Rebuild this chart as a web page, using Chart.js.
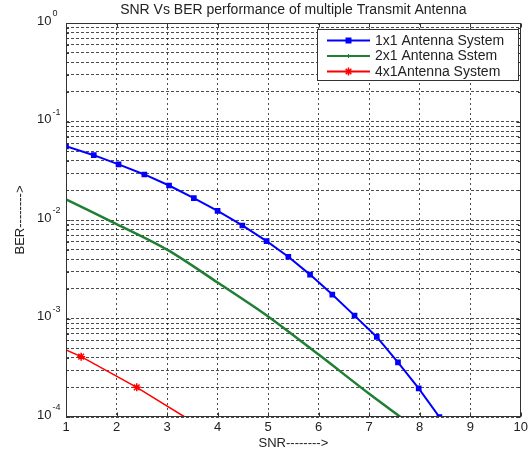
<!DOCTYPE html>
<html>
<head>
<meta charset="utf-8">
<script src="https://cdn.jsdelivr.net/npm/chart.js@4"></script>
<style>
    html, body { margin: 0; padding: 0; background: #fff; }
</style>
</head>
<body>
<canvas id="berChart" width="531" height="451"></canvas>
<script>
// Dados (SNR x BER)
const snr1x1 = [1, 1.55, 2.04, 2.55, 3.04, 3.53, 4.0, 4.49, 4.97, 5.40, 5.83, 6.27, 6.71, 7.15, 7.57, 7.98, 8.39];
const ber1x1 = [0.056, 0.0455, 0.0367, 0.029, 0.0224, 0.0167, 0.0124, 0.0088, 0.0061, 0.00424, 0.00279, 0.00175, 0.00107, 0.00065, 0.000358, 0.000195, 0.0001];

const snr2x1 = [1, 2, 3, 4, 5, 6, 7, 7.62];
const ber2x1 = [0.0162, 0.0091, 0.0050, 0.00232, 0.00105, 0.00043, 0.000172, 0.0001];

const snr4x1 = [1, 1.30, 2.40, 3.35];
const ber4x1 = [0.00048, 0.00041, 0.0002, 0.0001];

const seriesLabels = ['1x1 Antenna System', '2x1 Antenna Sstem', '4x1Antenna System'];
const xTicks = [1, 2, 3, 4, 5, 6, 7, 8, 9, 10];
const yDecades = [0, -1, -2, -3, -4];

const chartTitle = 'SNR Vs BER performance of multiple Transmit Antenna';
const xTitle = 'SNR-------->';
const yTitle = 'BER-------->';

const FONT = "'Liberation Sans', Arial, sans-serif";
const TEXT = '#222';

function toPoints(xs, ys) {
    return xs.map((x, i) => ({ x: x, y: ys[i] }));
}

// marcadores da legenda (estilo MATLAB)
function drawMarker(ctx, style, x, y, color) {
    ctx.save();
    ctx.fillStyle = color;
    ctx.strokeStyle = color;
    ctx.lineWidth = 1.5;
    if (style === 'rect') {
        ctx.fillRect(x - 3, y - 3, 6, 6);
    } else if (style === 'cross') {
        ctx.lineWidth = 1;
        ctx.beginPath();
        ctx.moveTo(x - 2, y); ctx.lineTo(x + 2, y);
        ctx.moveTo(x, y - 2); ctx.lineTo(x, y + 2);
        ctx.stroke();
    } else if (style === 'star') {
        ctx.beginPath();
        for (let k = 0; k < 4; k++) {
            const ang = k * Math.PI / 4;
            ctx.moveTo(x - 4 * Math.cos(ang), y - 4 * Math.sin(ang));
            ctx.lineTo(x + 4 * Math.cos(ang), y + 4 * Math.sin(ang));
        }
        ctx.stroke();
    }
    ctx.restore();
}

const decorPlugin = {
    id: 'decor',
    afterDraw(chart) {
        const { ctx, chartArea: a, scales } = chart;
        const xs = scales.x, ys = scales.y;
        const L = Math.round(a.left) + 0.5, R = Math.round(a.right) - 0.5;
        const T = Math.round(a.top) + 0.5, B = Math.round(a.bottom) - 0.5;
        ctx.save();

        // moldura
        ctx.setLineDash([]);
        ctx.strokeStyle = '#333';
        ctx.lineWidth = 1;
        ctx.strokeRect(L, T, R - L, B - T);

        // marcas internas dos eixos
        ctx.beginPath();
        xTicks.forEach(v => {
            const px = Math.round(xs.getPixelForValue(v)) + 0.5;
            ctx.moveTo(px, B); ctx.lineTo(px, B - 4);
            ctx.moveTo(px, T); ctx.lineTo(px, T + 4);
        });
        ys.ticks.forEach(t => {
            const py = Math.round(ys.getPixelForValue(t.value)) + 0.5;
            const len = Number.isInteger(Math.log10(t.value)) ? 4 : 2.5;
            ctx.moveTo(L, py); ctx.lineTo(L + len, py);
            ctx.moveTo(R, py); ctx.lineTo(R - len, py);
        });
        ctx.stroke();

        // rótulos do eixo y (10 elevado a n)
        ctx.fillStyle = TEXT;
        ctx.textBaseline = 'middle';
        ctx.textAlign = 'left';
        yDecades.forEach(e => {
            const py = ys.getPixelForValue(Math.pow(10, e));
            ctx.font = '13px ' + FONT;
            ctx.fillText('10', 37, py - 2);
            const w = ctx.measureText('10').width;
            ctx.font = '9px ' + FONT;
            ctx.fillText(e === 0 ? '0' : '-' + (-e), 37 + w + 1, py - 9);
        });

        // título e títulos dos eixos
        const cx = (a.left + a.right) / 2;
        ctx.textAlign = 'center';
        ctx.font = '14px ' + FONT;
        ctx.fillText(chartTitle, cx, 10);
        ctx.font = '13px ' + FONT;
        ctx.fillText(xTitle, cx, 443);
        ctx.save();
        ctx.translate(20, (a.top + a.bottom) / 2);
        ctx.rotate(-Math.PI / 2);
        ctx.fillText(yTitle, 0, 0);
        ctx.restore();

        // legenda
        ctx.fillStyle = '#fff';
        ctx.fillRect(317.5, 29.5, 201, 51);
        ctx.strokeStyle = '#333';
        ctx.strokeRect(317.5, 29.5, 201, 51);
        ctx.font = '14px ' + FONT;
        ctx.textAlign = 'left';
        chart.data.datasets.forEach((ds, i) => {
            const yy = 40.5 + i * 15.5;
            ctx.strokeStyle = ds.borderColor;
            ctx.lineWidth = 2;
            ctx.beginPath();
            ctx.moveTo(327, yy); ctx.lineTo(370, yy);
            ctx.stroke();
            drawMarker(ctx, ds.legendMarker, 348.5, yy, ds.borderColor);
            ctx.fillStyle = TEXT;
            ctx.fillText(ds.label, 375, yy + 0.5);
        });

        ctx.restore();
    }
};

const ctx = document.getElementById('berChart');
new Chart(ctx, {
    type: 'line',
    data: {
        datasets: [
            {
                label: seriesLabels[0],
                data: toPoints(snr1x1, ber1x1),
                borderColor: '#0000ff',
                backgroundColor: '#0000ff',
                borderWidth: 2,
                pointStyle: 'rect',
                pointRadius: 4,
                pointBorderWidth: 0,
                legendMarker: 'rect'
            },
            {
                label: seriesLabels[1],
                data: toPoints(snr2x1, ber2x1),
                borderColor: '#1f7f35',
                backgroundColor: '#1f7f35',
                borderWidth: 2.5,
                pointRadius: 0,
                tension: 0.3,
                legendMarker: 'cross'
            },
            {
                label: seriesLabels[2],
                data: toPoints(snr4x1, ber4x1),
                borderColor: '#ff0000',
                backgroundColor: '#ff0000',
                borderWidth: 1.5,
                pointStyle: 'star',
                pointRadius: [0, 4, 4, 0],
                pointBorderWidth: 1.5,
                legendMarker: 'star'
            }
        ]
    },
    options: {
        responsive: false,
        animation: false,
        layout: { padding: { top: 23, right: 9, left: 0, bottom: 0 } },
        plugins: {
            legend: { display: false },
            title: { display: false },
            tooltip: { enabled: false }
        },
        scales: {
            x: {
                type: 'linear',
                min: 1,
                max: 10,
                afterFit: s => { s.height = 34; },
                afterBuildTicks: s => { s.ticks = xTicks.map(v => ({ value: v })); },
                ticks: {
                    color: TEXT,
                    font: { family: FONT, size: 13 },
                    padding: 3,
                    maxRotation: 0
                },
                grid: { color: 'rgba(0,0,0,0.7)', drawTicks: false, lineWidth: 1 },
                border: { display: false, dash: [2, 3] }
            },
            y: {
                type: 'logarithmic',
                min: 1e-4,
                max: 1,
                afterFit: s => { s.width = 66; },
                afterBuildTicks: s => {
                    const t = [];
                    for (let e = -4; e <= 0; e++) {
                        for (let m = 1; m <= 9; m++) {
                            const v = m * Math.pow(10, e);
                            if (v <= 1) t.push({ value: v });
                        }
                    }
                    s.ticks = t;
                },
                ticks: { display: false, callback: () => '' },
                grid: { color: 'rgba(0,0,0,0.7)', drawTicks: false, lineWidth: 1 },
                border: { display: false, dash: [3, 2] }
            }
        }
    },
    plugins: [decorPlugin]
});
</script>
</body>
</html>
